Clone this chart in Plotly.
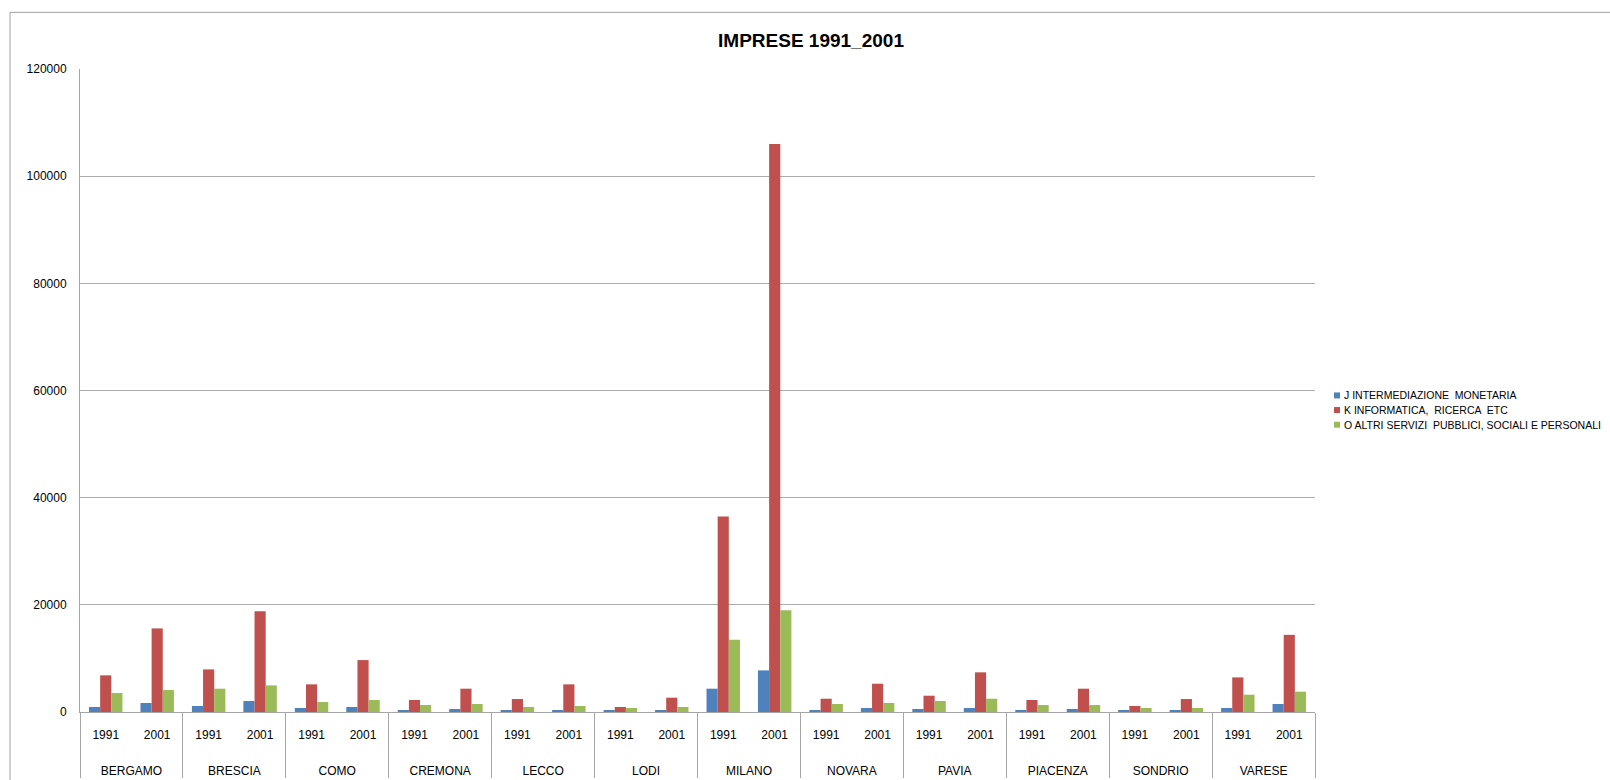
import plotly.graph_objects as go

province = ["BERGAMO", "BRESCIA", "COMO", "CREMONA", "LECCO", "LODI",
            "MILANO", "NOVARA", "PAVIA", "PIACENZA", "SONDRIO", "VARESE"]
anni = ["1991", "2001"]

series_names = ["J INTERMEDIAZIONE  MONETARIA",
                "K INFORMATICA,  RICERCA  ETC",
                "O ALTRI SERVIZI  PUBBLICI, SOCIALI E PERSONALI"]

j_interm = [930, 1680, 1120, 2050, 750, 930, 350, 560, 350, 300, 300, 300,
            4350, 7770, 300, 750, 560, 750, 300, 560, 300, 300, 750, 1490]
k_inform = [6840, 15600, 7950, 18820, 5160, 9690, 2240, 4350, 2420, 5160, 930, 2670,
            36500, 106000, 2480, 5280, 3040, 7400, 2240, 4350, 1120, 2420, 6460, 14400]
o_altri = [3540, 4100, 4350, 4970, 1860, 2240, 1300, 1490, 930, 1120, 750, 930,
           13480, 19000, 1490, 1680, 2050, 2480, 1300, 1300, 750, 750, 3230, 3790]

colors = ["#4F81BD", "#C0504D", "#9BBB59"]

W, H = 1610, 780
L, R, T, B = 80, 1315, 69, 712.5
PW, PH = R - L, B - T


def px2paper_x(px):
    return (px - L) / PW


def px2paper_y(py):
    return (B - py) / PH


lvl1 = ["\u00a0<br>" + p for p in province for _ in anni]
lvl2 = [a + "<br> " for _ in province for a in anni]

fig = go.Figure()
for name, vals, col in zip(series_names, [j_interm, k_inform, o_altri], colors):
    fig.add_trace(go.Bar(x=[lvl1, lvl2], y=vals, name=name, marker_color=col,
                         marker_line_width=0, showlegend=False))

font_family = "Liberation Sans, Arial, sans-serif"

fig.update_layout(
    width=W, height=H,
    margin=dict(l=L, r=W - R, t=T, b=H - B, autoexpand=False),
    paper_bgcolor="white", plot_bgcolor="white",
    barmode="group", bargap=0.35, bargroupgap=0,
    font=dict(family=font_family, size=12, color="#000000"),
    title=dict(text="<b>IMPRESE 1991_2001</b>", x=811 / W, xref="container",
               xanchor="center", y=1 - 40 / H, yref="container", yanchor="middle",
               font=dict(family=font_family, size=19, color="#000000")),
    showlegend=False,
)

fig.update_yaxes(range=[0, 120000], dtick=20000, showgrid=True, gridcolor="#ababab",
                 gridwidth=1, showline=True, linecolor="#a6a6a6", linewidth=1,
                 tickformat="d", ticks="", ticklabelstandoff=10, zeroline=False,
                 tickfont=dict(size=12))
fig.update_xaxes(type="multicategory", showline=True, linecolor="#a6a6a6", linewidth=1,
                 showdividers=True, dividercolor="#a6a6a6", dividerwidth=1,
                 tickfont=dict(size=12), ticks="", ticklabelstandoff=12)

# outer chart frame
fig.add_shape(type="rect", xref="paper", yref="paper",
              x0=px2paper_x(10), x1=1.4, y0=-0.5, y1=px2paper_y(12.3),
              line=dict(color="#a0a0a0", width=1), fillcolor="rgba(0,0,0,0)", layer="below")

# custom legend (compact, like the original)
legend_rows = [395.7, 410.3, 425.0]
for name, col, ry in zip(series_names, colors, legend_rows):
    fig.add_shape(type="rect", xref="paper", yref="paper",
                  x0=px2paper_x(1334), x1=px2paper_x(1340),
                  y0=px2paper_y(ry + 3), y1=px2paper_y(ry - 3),
                  line=dict(width=0), fillcolor=col)
    fig.add_annotation(text=name, xref="paper", yref="paper",
                       x=px2paper_x(1342), y=px2paper_y(ry), xanchor="left",
                       yanchor="middle", showarrow=False,
                       font=dict(family=font_family, size=10.5, color="#000000"))

fig.write_html("out.html")
